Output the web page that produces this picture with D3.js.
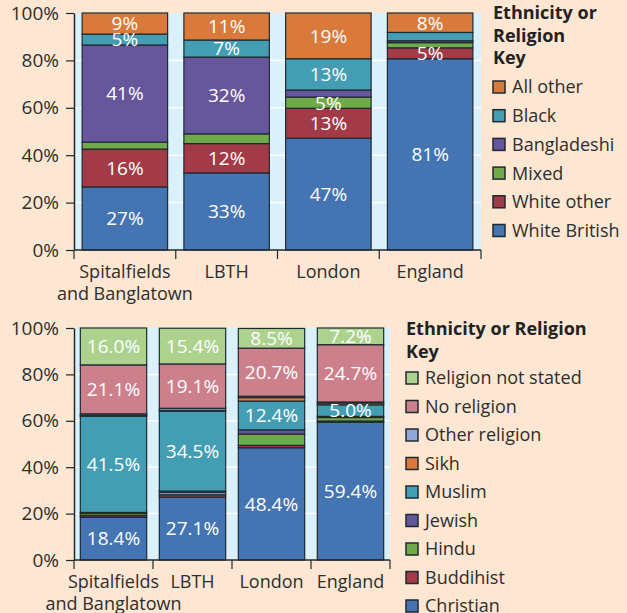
<!DOCTYPE html>
<html>
<head>
<meta charset="utf-8">
<script src="https://cdn.jsdelivr.net/npm/d3@7/dist/d3.min.js"></script>
<style>
  html, body { margin: 0; padding: 0; background: #fde6d2; }
  svg { display: block; font-family: "Open Sans", sans-serif; }
</style>
</head>
<body>
<div id="chart"></div>
<script>
// --- data: top chart (ethnicity), stacked bottom -> top
const places = ["Spitalfields|and Banglatown", "LBTH", "London", "England"]

const ethnicKeys = ["White British", "White other", "Mixed", "Bangladeshi", "Black", "All other"]
const whiteBritish = [26.6, 32.5, 47.2, 80.7]
const whiteOther   = [16.0, 12.4, 12.6, 4.6]
const mixed        = [2.9, 4.1, 4.7, 2.2]
const bangladeshi  = [41.0, 32.4, 3.0, 0.8]
const black        = [4.6, 7.2, 13.2, 3.5]
const allOther     = [8.9, 11.4, 19.3, 8.2]

// --- data: bottom chart (religion), stacked bottom -> top
const religionKeys = ["Christian", "Buddihist", "Hindu", "Jewish", "Muslim", "Sikh", "Other religion", "No religion", "Religion not stated"]
const christian    = [18.4, 27.1, 48.4, 59.4]
const buddhist     = [0.7, 1.0, 1.0, 0.5]
const hindu        = [0.9, 1.1, 4.9, 1.5]
const jewish       = [0.5, 0.5, 1.8, 0.5]
const muslim       = [41.5, 34.5, 12.4, 5.0]
const sikh         = [0.4, 0.3, 1.5, 0.8]
const otherRel     = [0.6, 0.9, 0.6, 0.4]
const noReligion   = [21.1, 19.1, 20.7, 24.7]
const notStated    = [16.0, 15.4, 8.5, 7.2]

const yTicks = [0, 20, 40, 60, 80, 100]

const COLORS = {
  "White British": "#4574b2", "White other": "#a33a48", "Mixed": "#70aa4b",
  "Bangladeshi": "#66569b", "Black": "#439db3", "All other": "#d97a3a",
  "Christian": "#4574b2", "Buddihist": "#a33a48", "Hindu": "#70aa4b",
  "Jewish": "#66569b", "Muslim": "#439db3", "Sikh": "#d97a3a",
  "Other religion": "#8fa8d6", "No religion": "#cc808b", "Religion not stated": "#acd28d"
}

const INK = "#1f2a30"
const TEXT = "#2e2e2e"

const width = 627, height = 613
const svg = d3.select("#chart").append("svg")
  .attr("width", width).attr("height", height)

svg.append("rect").attr("width", width).attr("height", height).attr("fill", "#fde6d2")

function buildRows(keys, series) {
  return places.map((p, i) => {
    const row = { place: p }
    keys.forEach((k, j) => { row[k] = series[j][i] })
    return row
  })
}

function drawChart(opts) {
  const { keys, series, top, bottom, left, right, labelMin, fmt, legend } = opts
  const rows = buildRows(keys, series)
  const stack = d3.stack().keys(keys)(rows)

  const x = d3.scaleBand().domain(places).range([left, right]).padding(0)
  const y = d3.scaleLinear().domain([0, 100]).range([bottom, top])
  const inset = x.bandwidth() * 0.08

  const g = svg.append("g")

  // plot background + grid
  g.append("rect")
    .attr("x", left).attr("y", top)
    .attr("width", right - left).attr("height", bottom - top)
    .attr("fill", "#daf1fc")

  g.append("g").selectAll("line")
    .data(yTicks.filter(d => d > 0 && d < 100))
    .enter().append("line")
    .attr("x1", left).attr("x2", right)
    .attr("y1", d => y(d)).attr("y2", d => y(d))
    .attr("stroke", "#fff").attr("stroke-width", 1.5)

  // bars
  const layers = g.append("g").selectAll("g")
    .data(stack)
    .enter().append("g")
    .attr("fill", d => COLORS[d.key])

  layers.selectAll("rect")
    .data(d => d)
    .enter().append("rect")
    .attr("x", d => x(d.data.place) + inset)
    .attr("width", x.bandwidth() - 2 * inset)
    .attr("y", d => y(Math.min(100, d[1])))
    .attr("height", d => y(d[0]) - y(Math.min(100, d[1])))
    .attr("stroke", INK).attr("stroke-width", 1.2)

  // value labels
  const labelData = []
  stack.forEach(layer => {
    layer.forEach(d => {
      const v = d[1] - d[0]
      if (v >= labelMin) labelData.push({ place: d.data.place, mid: (d[0] + Math.min(100, d[1])) / 2, v })
    })
  })
  g.append("g").selectAll("text")
    .data(labelData)
    .enter().append("text")
    .attr("x", d => x(d.place) + x.bandwidth() / 2)
    .attr("y", d => y(d.mid))
    .attr("dy", "0.36em")
    .attr("text-anchor", "middle")
    .attr("fill", "#fff").attr("font-size", 19)
    .text(d => fmt(d.v))

  // y axis
  const yAxis = g.append("g")
    .attr("transform", `translate(${left},0)`)
    .call(d3.axisLeft(y).tickValues(yTicks).tickSize(8).tickSizeOuter(0).tickPadding(7).tickFormat(d => d + "%"))
  yAxis.select(".domain").attr("stroke", INK).attr("stroke-width", 1.5)
  yAxis.selectAll(".tick line").attr("stroke", INK).attr("stroke-width", 1.2)
  yAxis.selectAll("text").attr("fill", TEXT).attr("font-size", 19).attr("font-family", "Open Sans, sans-serif")

  // x axis: baseline + ticks at band edges
  g.append("line")
    .attr("x1", left).attr("x2", right)
    .attr("y1", bottom).attr("y2", bottom)
    .attr("stroke", INK).attr("stroke-width", 1.5)
  const edges = places.map(p => x(p)).concat([right])
  g.append("g").selectAll("line")
    .data(edges)
    .enter().append("line")
    .attr("x1", d => d).attr("x2", d => d)
    .attr("y1", bottom).attr("y2", bottom + 9)
    .attr("stroke", INK).attr("stroke-width", 1.2)

  const xl = g.append("g").selectAll("text")
    .data(places)
    .enter().append("text")
    .attr("x", d => x(d) + x.bandwidth() / 2)
    .attr("y", bottom + 28)
    .attr("text-anchor", "middle")
    .attr("fill", TEXT).attr("font-size", 18)
  xl.each(function(d) {
    d3.select(this).selectAll("tspan")
      .data(d.split("|"))
      .enter().append("tspan")
      .attr("x", x(d) + x.bandwidth() / 2)
      .attr("dy", (t, i) => i === 0 ? 0 : 22)
      .text(t => t)
  })

  // legend
  const lg = g.append("g").attr("transform", `translate(${legend.x},0)`)
  legend.title.forEach((t, i) => {
    lg.append("text")
      .attr("x", 0).attr("y", legend.titleY + i * 22.5)
      .attr("fill", "#222").attr("font-size", 18).attr("font-weight", "bold")
      .text(t)
  })
  keys.slice().reverse().forEach((k, i) => {
    const cy = legend.itemY + i * legend.step
    lg.append("rect")
      .attr("x", 0).attr("y", cy - 6)
      .attr("width", 12).attr("height", 12)
      .attr("fill", COLORS[k]).attr("stroke", INK).attr("stroke-width", 1.5)
    lg.append("text")
      .attr("x", 19).attr("y", cy).attr("dy", "0.36em")
      .attr("fill", TEXT).attr("font-size", 18)
      .text(k)
  })
}

drawChart({
  keys: ethnicKeys,
  series: [whiteBritish, whiteOther, mixed, bangladeshi, black, allOther],
  top: 13, bottom: 250, left: 74, right: 481,
  labelMin: 4.5,
  fmt: v => Math.round(v) + "%",
  legend: { x: 493, title: ["Ethnicity or", "Religion", "Key"], titleY: 19, itemY: 87, step: 28.7 }
})

drawChart({
  keys: religionKeys,
  series: [christian, buddhist, hindu, jewish, muslim, sikh, otherRel, noReligion, notStated],
  top: 328, bottom: 560, left: 74, right: 390,
  labelMin: 5,
  fmt: v => v.toFixed(1) + "%",
  legend: { x: 406, title: ["Ethnicity or Religion", "Key"], titleY: 335, itemY: 378, step: 28.5 }
})
</script>
</body>
</html>
